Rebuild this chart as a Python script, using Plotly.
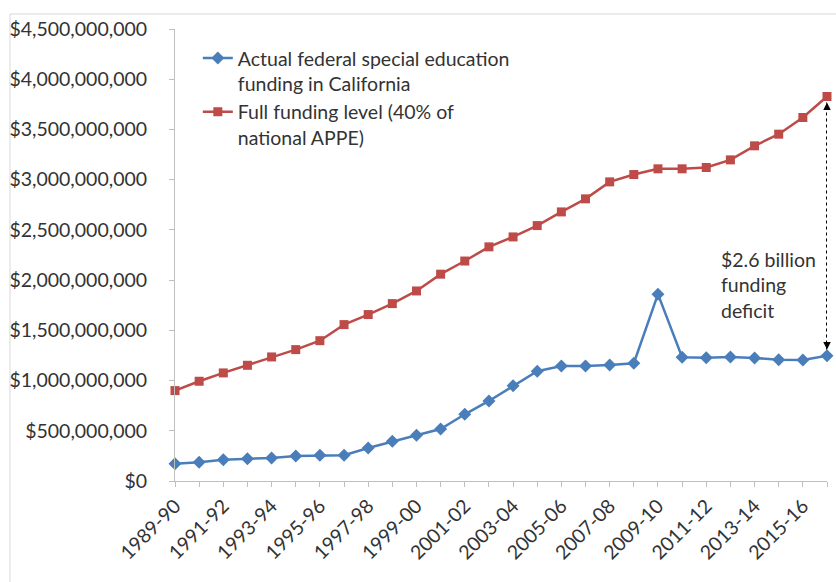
import plotly.graph_objects as go

years = ["1989-90", "1990-91", "1991-92", "1992-93", "1993-94", "1994-95", "1995-96",
         "1996-97", "1997-98", "1998-99", "1999-00", "2000-01", "2001-02", "2002-03",
         "2003-04", "2004-05", "2005-06", "2006-07", "2007-08", "2008-09", "2009-10",
         "2010-11", "2011-12", "2012-13", "2013-14", "2014-15", "2015-16", "2016-17"]

actual = [172e6, 186e6, 212e6, 222e6, 229e6, 249e6, 256e6, 256e6, 329e6, 395e6,
          455e6, 518e6, 664e6, 797e6, 949e6, 1093e6, 1145e6, 1145e6, 1155e6, 1172e6,
          1860e6, 1232e6, 1228e6, 1235e6, 1225e6, 1208e6, 1205e6, 1248e6]

full = [900e6, 993e6, 1076e6, 1152e6, 1235e6, 1308e6, 1397e6, 1557e6, 1657e6, 1766e6,
        1892e6, 2059e6, 2190e6, 2331e6, 2430e6, 2543e6, 2679e6, 2809e6, 2978e6, 3051e6,
        3108e6, 3108e6, 3121e6, 3197e6, 3337e6, 3453e6, 3619e6, 3828e6]

y_ticks = [0, 500e6, 1000e6, 1500e6, 2000e6, 2500e6, 3000e6, 3500e6, 4000e6, 4500e6]
y_tick_labels = ["$0", "$500,000,000", "$1,000,000,000", "$1,500,000,000",
                 "$2,000,000,000", "$2,500,000,000", "$3,000,000,000",
                 "$3,500,000,000", "$4,000,000,000", "$4,500,000,000"]

series_names = ["Actual federal special education<br>funding in California",
                "Full funding level (40% of<br>national APPE)"]
deficit_label = "$2.6 billion<br>funding<br>deficit"

BLUE = "#4A7EBB"
RED = "#BE4B48"
TXT = "#333333"
FONT = "Lato"
FS = 19.5

xs = list(range(len(years)))

fig = go.Figure()
fig.add_trace(go.Scatter(
    x=xs, y=actual, name=series_names[0], mode="lines+markers",
    line=dict(color=BLUE, width=2.5),
    marker=dict(symbol="diamond", size=10, color=BLUE),
    cliponaxis=False))
fig.add_trace(go.Scatter(
    x=xs, y=full, name=series_names[1], mode="lines+markers",
    line=dict(color=RED, width=2.5),
    marker=dict(symbol="square", size=9, color=RED),
    cliponaxis=False))

last = len(years) - 1
# dotted deficit line between the two last points
fig.add_shape(type="line", xref="x", yref="y",
              x0=xs[last], x1=xs[last], y0=actual[last] + 60e6, y1=full[last] - 60e6,
              line=dict(color="black", width=2, dash="dot"))
# arrowheads
fig.add_annotation(x=xs[last], y=full[last] - 60e6, ax=0, ay=6, xref="x", yref="y",
                   text="", showarrow=True, arrowhead=2, arrowsize=1, arrowwidth=1.5,
                   arrowcolor="black")
fig.add_annotation(x=xs[last], y=actual[last] + 60e6, ax=0, ay=-6, xref="x", yref="y",
                   text="", showarrow=True, arrowhead=2, arrowsize=1, arrowwidth=1.5,
                   arrowcolor="black")
fig.add_annotation(x=0.834, y=0.433, xref="paper", yref="paper", xanchor="left",
                   yanchor="middle", align="left", text=deficit_label, showarrow=False,
                   font=dict(family=FONT, size=FS, color=TXT))

# outer chart border
fig.add_shape(type="rect", xref="paper", yref="paper",
              x0=-0.2531, x1=1.2, y0=-0.5, y1=1.0332,
              line=dict(color="#D9D9D9", width=1), layer="below")

fig.update_layout(
    width=836, height=582,
    margin=dict(l=175, r=9, t=29, b=101),
    paper_bgcolor="white", plot_bgcolor="white",
    font=dict(family=FONT, size=FS, color=TXT),
    showlegend=True,
    legend=dict(x=0.035, y=0.978, xanchor="left", yanchor="top",
                bgcolor="rgba(0,0,0,0)", valign="top", tracegroupgap=0,
                font=dict(family=FONT, size=FS, color=TXT)),
    xaxis=dict(range=[0, last], tickvals=xs[::2], ticktext=years[::2],
               tickangle=-45, showgrid=False, zeroline=False,
               showline=True, linecolor="#BFBFBF", linewidth=1,
               ticks="outside", ticklen=5, tickcolor="#BFBFBF",
               minor=dict(dtick=1, tick0=0, ticks="outside", ticklen=5,
                          tickcolor="#BFBFBF", showgrid=False),
               tickfont=dict(family=FONT, size=FS, color=TXT)),
    yaxis=dict(range=[0, 4.5e9], tickvals=y_ticks, ticktext=y_tick_labels,
               showgrid=False, zeroline=False, showline=True, linecolor="#BFBFBF",
               linewidth=1, ticks="outside", ticklen=5, tickcolor="#BFBFBF",
               ticklabelstandoff=18,
               tickfont=dict(family=FONT, size=FS, color=TXT)),
)

fig.write_html("out.html")
